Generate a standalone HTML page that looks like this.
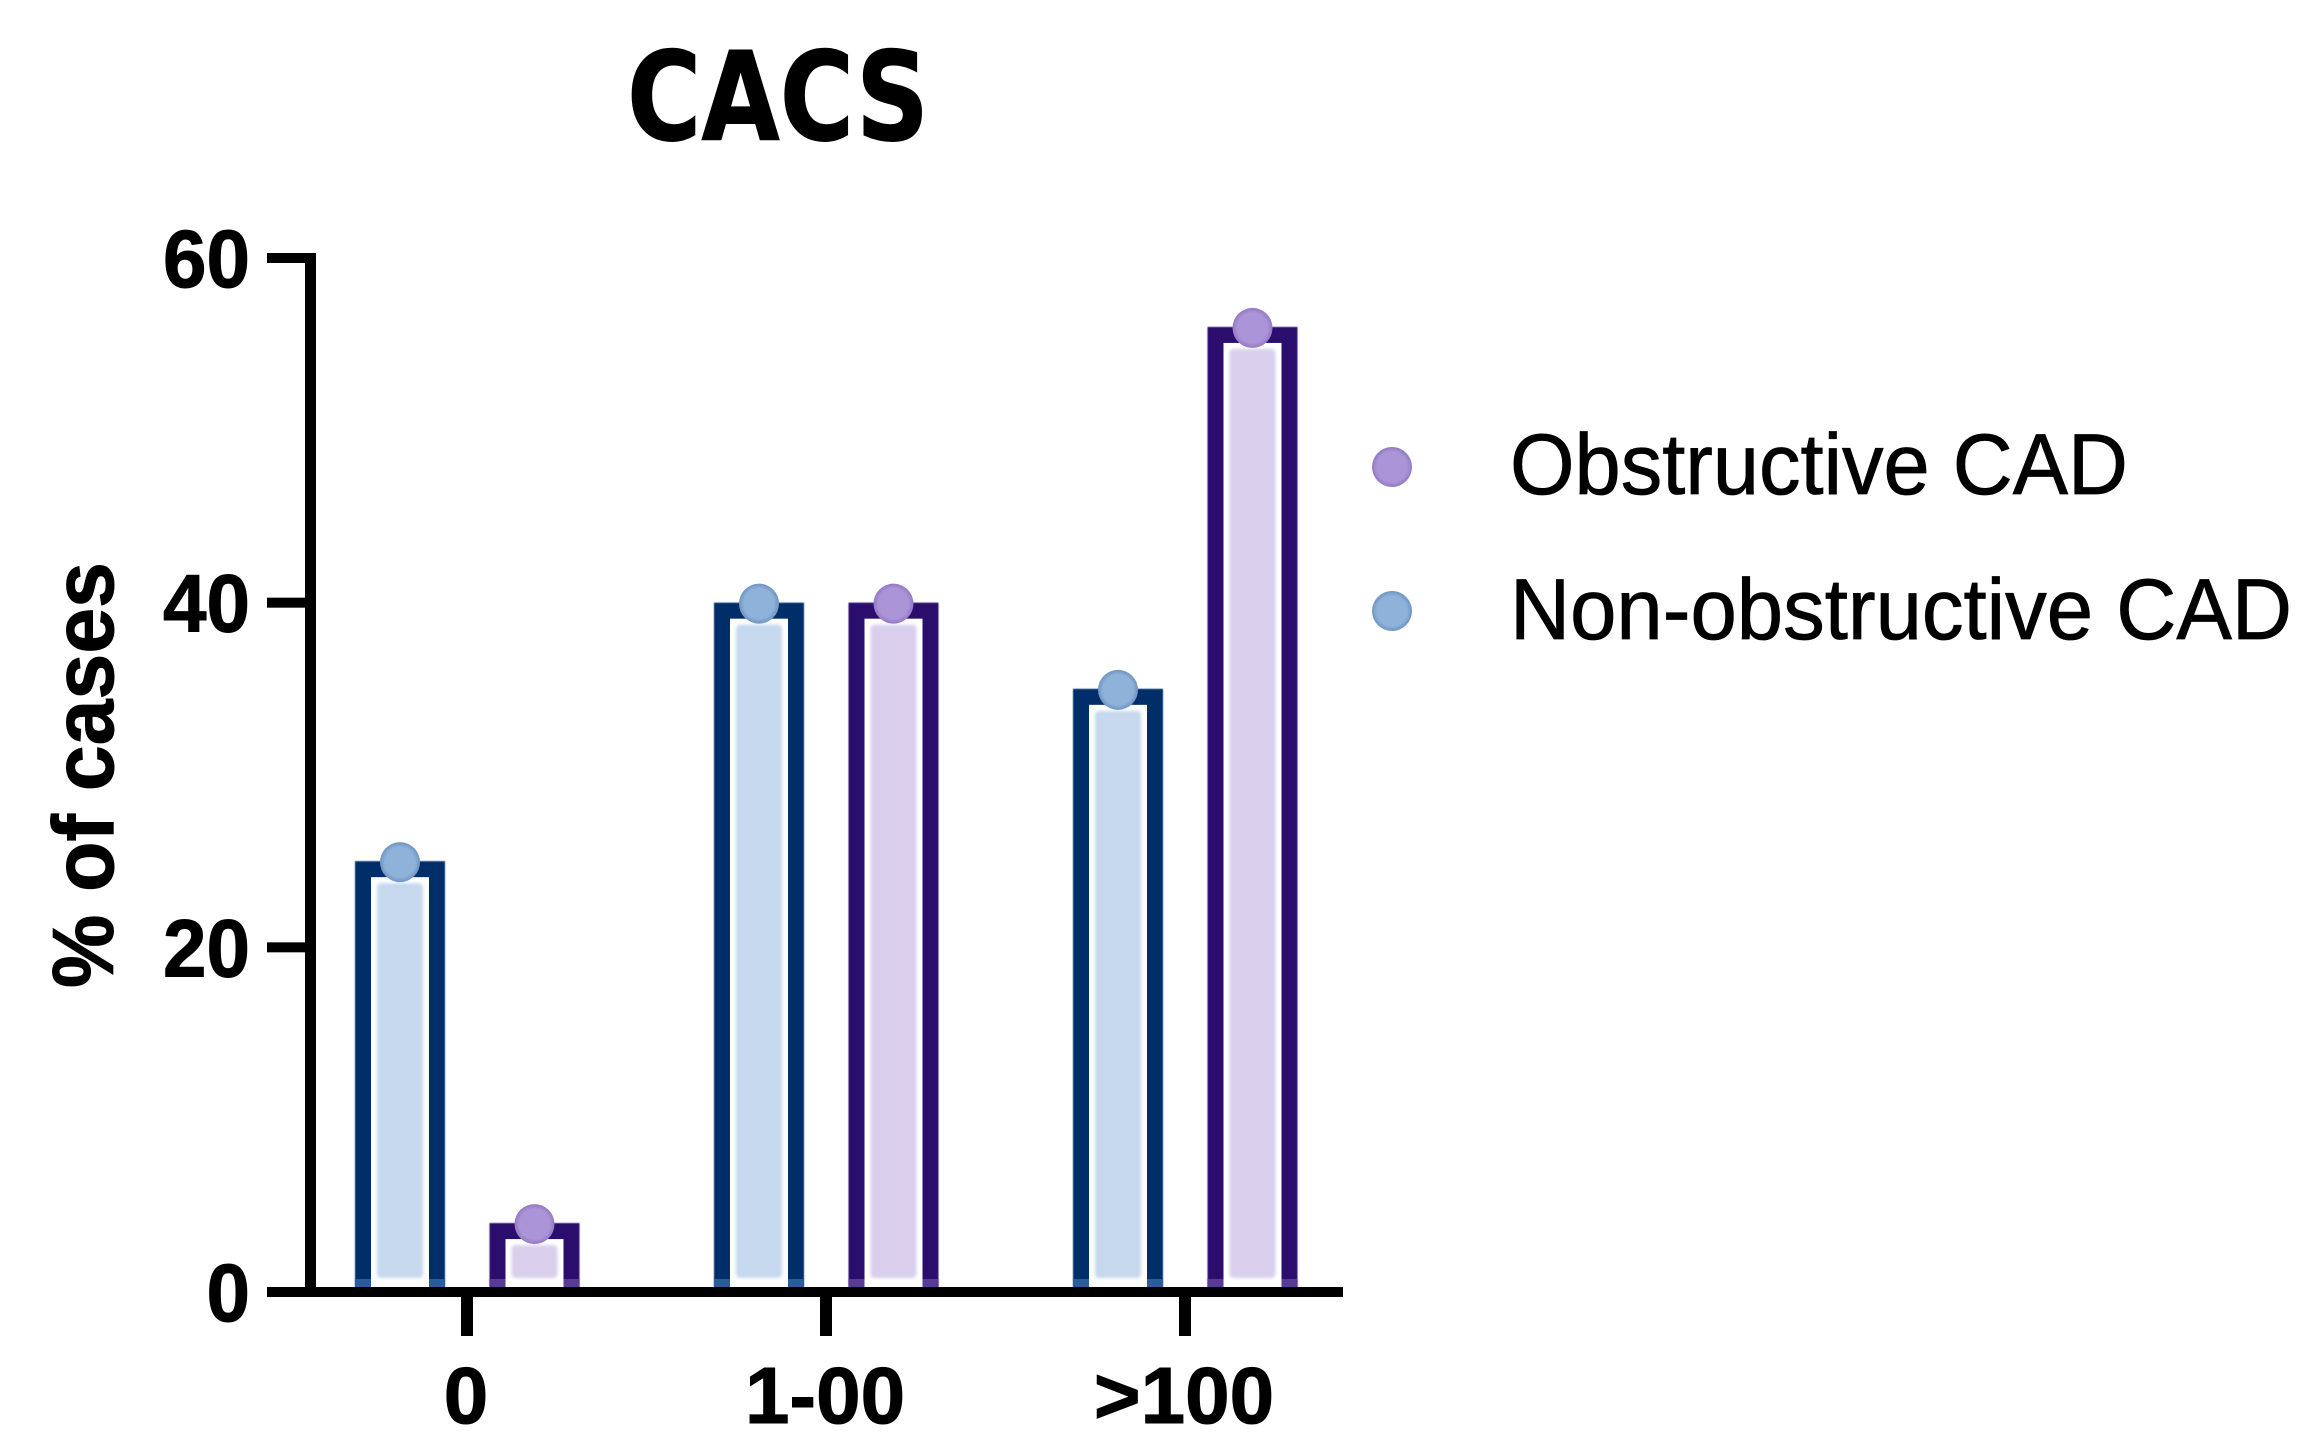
<!DOCTYPE html>
<html>
<head>
<meta charset="utf-8">
<title>CACS</title>
<style>
html,body{margin:0;padding:0;background:#fff;width:2313px;height:1455px;overflow:hidden}
svg{display:block}
text{fill:#000;font-family:"Liberation Sans",sans-serif}
.b{font-weight:700;stroke:#000;stroke-width:1px}
.t{font-family:"DejaVu Sans",sans-serif;font-weight:700;stroke:#000;stroke-width:1px}
.l{stroke:#000;stroke-width:0.8px}
</style>
</head>
<body>
<svg id="chart" xmlns="http://www.w3.org/2000/svg" width="2313" height="1455" viewBox="0 0 2313 1455">
<defs>
<filter id="soft" x="-20%" y="-5%" width="140%" height="110%"><feGaussianBlur stdDeviation="1.6"/></filter>
<filter id="crisp" x="-5%" y="-5%" width="110%" height="110%"><feGaussianBlur stdDeviation="0.6"/></filter>
<radialGradient id="dotPurple"><stop offset="0.75" stop-color="#ac94d8"/><stop offset="1" stop-color="#9279c2"/></radialGradient>
<radialGradient id="dotBlue"><stop offset="0.75" stop-color="#8fb2da"/><stop offset="1" stop-color="#6f94c2"/></radialGradient>
</defs>
<text class="t" x="778" y="140" font-size="123" text-anchor="middle" textLength="302" lengthAdjust="spacingAndGlyphs">CACS</text>
<text class="b" transform="translate(113,775) rotate(-90)" font-size="86" text-anchor="middle" textLength="426" lengthAdjust="spacingAndGlyphs">% of cases</text>
<g id="bars"></g>
<g id="axes"></g>
<g id="points"></g>
<g>
<g>
<circle cx="1392" cy="467" r="20" fill="url(#dotPurple)"/>
<text class="l" x="1510" y="494" font-size="86" textLength="618" lengthAdjust="spacingAndGlyphs">Obstructive CAD</text>
</g>
<g>
<circle cx="1392" cy="611" r="20" fill="url(#dotBlue)"/>
<text class="l" x="1510" y="639" font-size="86" textLength="782" lengthAdjust="spacingAndGlyphs">Non-obstructive CAD</text>
</g>
</g>
</svg>
<script>
const categories = ['0', '1-00', '>100'];
const nonObstructive = [25, 40, 35];
const obstructive = [4, 40, 56];
const yTickValues = [0, 20, 40, 60];

const NS = 'http://www.w3.org/2000/svg';
const y0 = 1292, yPerUnit = 1034 / 60;
const yScale = v => y0 - v * yPerUnit;
const xScale = i => 467 + 359 * i;
const barsG = document.getElementById('bars');
const axesG = document.getElementById('axes');
const pointsG = document.getElementById('points');

function mk(tag, attrs, parent) {
  const el = document.createElementNS(NS, tag);
  for (const k in attrs) el.setAttribute(k, attrs[k]);
  parent.appendChild(el);
  return el;
}

function drawBar(cx, value, stroke, fill, fade, dot, seriesName, catIndex) {
  const base = 1287, w = 90, t = 16;
  const top = yScale(value), left = cx - w / 2;
  const g = mk('g', {}, barsG);
  
  
  mk('rect', {x: left, y: top, width: w, height: base - top, fill: stroke, filter: 'url(#crisp)'}, g);
  mk('rect', {x: left + t, y: top + t, width: w - 2 * t, height: base - top - t + 1, fill: '#fff'}, g);
  mk('rect', {x: left, y: base - 8, width: t, height: 8, fill: fade}, g);
  mk('rect', {x: left + w - t, y: base - 8, width: t, height: 8, fill: fade}, g);
  const inTop = top + 22;
  mk('rect', {x: left + 22, y: inTop, width: w - 44, height: Math.max(0, 1278 - inTop), rx: 4, fill: fill, filter: 'url(#soft)'}, g);
  const c = mk('circle', {cx: cx, cy: top + 1, r: 20, fill: dot}, pointsG);
  
  
}

categories.forEach((cat, i) => {
  drawBar(xScale(i) - 67, nonObstructive[i], '#022d69', '#c5d8ee', '#2a5d9c', 'url(#dotBlue)', 'non-obstructive', i);
  drawBar(xScale(i) + 67.5, obstructive[i], '#2a0a6c', '#d9cfec', '#5a3a97', 'url(#dotPurple)', 'obstructive', i);
});

const yLine = mk('rect', {x: 305, y: 253, width: 11, height: 1044, fill: '#000'}, axesG);


const xLine = mk('rect', {x: 305, y: 1287, width: 1038, height: 10, fill: '#000'}, axesG);



yTickValues.forEach(v => {
  const y = yScale(v);
  const tick = mk('rect', {x: 267, y: y - 5, width: 45, height: 10, fill: '#000'}, axesG);
  
  
  const s = String(v);
  const label = mk('text', {x: 250, y: y + 29, 'font-size': 82, 'text-anchor': 'end', 'class': 'b',
    textLength: s.length * 43.5, lengthAdjust: 'spacingAndGlyphs'}, axesG);
  label.textContent = s;
  
  
});

categories.forEach((cat, i) => {
  const x = xScale(i);
  const tick = mk('rect', {x: x - 6, y: 1297, width: 12, height: 39, fill: '#000'}, axesG);
  
  
  const label = mk('text', {x: x - 1, y: 1423, 'font-size': 80, 'text-anchor': 'middle', 'class': 'b'}, axesG);
  label.textContent = cat;
  
  
});
</script>
</body>
</html>
